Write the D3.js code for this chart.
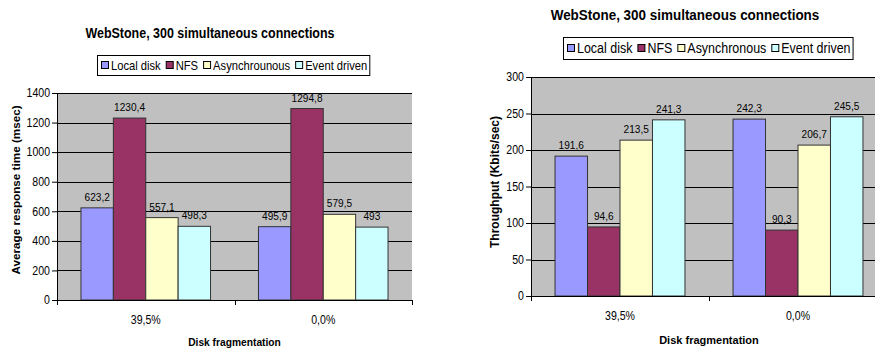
<!DOCTYPE html>
<head>
<meta charset="utf-8">
<script src="https://d3js.org/d3.v7.min.js"></script>
<style>
  body { margin: 0; background: #fff; }
  text { font-family: "Liberation Sans", Arial, sans-serif; fill: #000; }
  .bold { font-weight: bold; }
</style>
</head>
<body>
<script>
// ---- data ----
var categories = ['39,5%', '0,0%'];
var seriesNames = ['Local disk', 'NFS', 'Asynchrounous', 'Event driven'];
var seriesNames2 = ['Local disk', 'NFS', 'Asynchronous', 'Event driven'];
var seriesColors = ['#9999ff', '#993366', '#ffffcc', '#ccffff'];
var responseTime = [[623.2, 1230.4, 557.1, 498.3], [495.9, 1294.8, 579.5, 493]];
var throughput = [[191.6, 94.6, 213.5, 241.3], [242.3, 90.3, 206.7, 245.5]];
var responseTicks = [0, 200, 400, 600, 800, 1000, 1200, 1400];
var throughputTicks = [0, 50, 100, 150, 200, 250, 300];

var svg = d3.select('body').append('svg')
    .attr('width', 875).attr('height', 352);

function fmt(v) { return String(v).replace('.', ','); }

// squeeze text horizontally, the original uses a narrow Arial
function condense(sel, k) {
    sel.each(function () {
        var w = this.getComputedTextLength();
        d3.select(this).attr('textLength', w * k).attr('lengthAdjust', 'spacingAndGlyphs');
    });
    return sel;
}

function drawChart(opt) {
    var g = svg.append('g');
    var x = d3.scaleBand().domain(categories).range([opt.x0, opt.x1]);
    var xs = d3.scaleBand().domain(d3.range(4))
        .range([0, x.bandwidth()]).paddingOuter(0.74).paddingInner(0);
    var y = d3.scaleLinear().domain([0, opt.max]).range([opt.y1, opt.y0]);

    // plot area
    g.append('rect')
        .attr('x', opt.x0).attr('y', opt.y0)
        .attr('width', opt.x1 - opt.x0).attr('height', opt.y1 - opt.y0)
        .attr('fill', '#c0c0c0');

    // grid
    g.selectAll('.grid').data(opt.ticks.filter(d => d > 0)).enter()
        .append('line')
        .attr('x1', opt.x0).attr('x2', opt.x1)
        .attr('y1', d => Math.round(y(d)) + 0.5).attr('y2', d => Math.round(y(d)) + 0.5)
        .attr('stroke', '#000').attr('stroke-width', 1);

    // bars
    var groups = g.selectAll('.grp').data(opt.values).enter().append('g')
        .attr('transform', (d, i) => 'translate(' + x(categories[i]) + ',0)');
    groups.selectAll('rect').data(d => d).enter().append('rect')
        .attr('x', (d, j) => xs(j))
        .attr('width', xs.bandwidth())
        .attr('y', d => y(d))
        .attr('height', d => opt.y1 - y(d))
        .attr('fill', (d, j) => seriesColors[j])
        .attr('stroke', '#333').attr('stroke-width', 1);
    var vl = groups.selectAll('text').data(d => d).enter().append('text')
        .attr('x', (d, j) => xs(j) + xs.bandwidth() / 2)
        .attr('y', d => y(d) - 7)
        .attr('text-anchor', 'middle')
        .attr('font-size', 11.5)
        .text(d => fmt(d));
    condense(vl, 0.88);

    // y axis
    var yAxis = d3.axisLeft(y).tickValues(opt.ticks).tickFormat(d3.format('d'))
        .tickSize(5).tickPadding(2);
    var ya = g.append('g').attr('transform', 'translate(' + opt.x0 + ',0)').call(yAxis);
    ya.attr('font-family', null);
    ya.select('.domain').attr('stroke', '#000');
    condense(ya.selectAll('text').attr('font-size', 12), 0.88);

    // x axis
    var xAxis = d3.axisBottom(x).tickSize(0).tickPadding(15);
    var xa = g.append('g').attr('transform', 'translate(0,' + opt.y1 + ')').call(xAxis);
    xa.attr('font-family', null);
    xa.select('.domain').attr('stroke', '#000');
    condense(xa.selectAll('text').attr('font-size', 12), 0.88);
    xa.selectAll('.sep').data([opt.x0, (opt.x0 + opt.x1) / 2, opt.x1]).enter()
        .append('line').attr('class', 'sep')
        .attr('x1', d => Math.round(d) + 0.5).attr('x2', d => Math.round(d) + 0.5)
        .attr('y1', 0).attr('y2', 5).attr('stroke', '#000');

    // titles
    condense(g.append('text').attr('class', 'bold')
        .attr('x', opt.titleX).attr('y', opt.titleY)
        .attr('text-anchor', 'middle').attr('font-size', 14)
        .text('WebStone, 300 simultaneous connections'), opt.titleK);
    condense(g.append('text').attr('class', 'bold')
        .attr('x', (opt.x0 + opt.x1) / 2).attr('y', opt.xlabelY)
        .attr('text-anchor', 'middle').attr('font-size', 11)
        .text('Disk fragmentation'), opt.xlabelK);
    g.append('text').attr('class', 'bold')
        .attr('transform', 'translate(' + opt.ylabelX + ',' + opt.ylabelY + ') rotate(-90)')
        .attr('text-anchor', 'middle').attr('font-size', opt.ylabelSize)
        .text(opt.ylabel);

    // legend
    var lg = g.append('g');
    var box = lg.append('rect')
        .attr('fill', '#fff').attr('stroke', '#000');
    var cx = 0;
    opt.legend.forEach(function (name, i) {
        lg.append('rect')
            .attr('x', cx + 0.5).attr('y', -3.5).attr('width', 7).attr('height', 7)
            .attr('fill', seriesColors[i]).attr('stroke', '#000');
        var t = lg.append('text').attr('x', cx + 10).attr('y', 5)
            .attr('font-size', opt.legendSize).text(name);
        var w0 = t.node().getComputedTextLength();
        condense(t, opt.legendK);
        cx += 10 + w0 * opt.legendK + 5;
    });
    var w = cx - 5;
    box.attr('x', -3.5).attr('y', -opt.legendH / 2 + 0.5)
        .attr('width', w + 6).attr('height', opt.legendH);
    lg.attr('transform', 'translate(' + Math.round(opt.legendCx - w / 2) + ',' + opt.legendCy + ')');
}

drawChart({
    values: responseTime, ticks: responseTicks, max: 1400,
    x0: 57, x1: 412, y0: 93, y1: 300,
    titleX: 210, titleY: 38, titleK: 0.89, xlabelY: 346, xlabelK: 0.93,
    ylabel: 'Average response time (msec)', ylabelX: 20, ylabelY: 190, ylabelSize: 11.7,
    legend: seriesNames, legendCx: 234, legendCy: 65, legendH: 20,
    legendSize: 13, legendK: 0.86
});
drawChart({
    values: throughput, ticks: throughputTicks, max: 300,
    x0: 531, x1: 887, y0: 77, y1: 296,
    titleX: 685, titleY: 20, titleK: 0.96, xlabelY: 344, xlabelK: 1.0,
    ylabel: 'Throughput (Kbits/sec)', ylabelX: 499, ylabelY: 182, ylabelSize: 12,
    legend: seriesNames2, legendCx: 709, legendCy: 48, legendH: 22,
    legendSize: 14, legendK: 0.89
});
</script>
</body>
</html>
